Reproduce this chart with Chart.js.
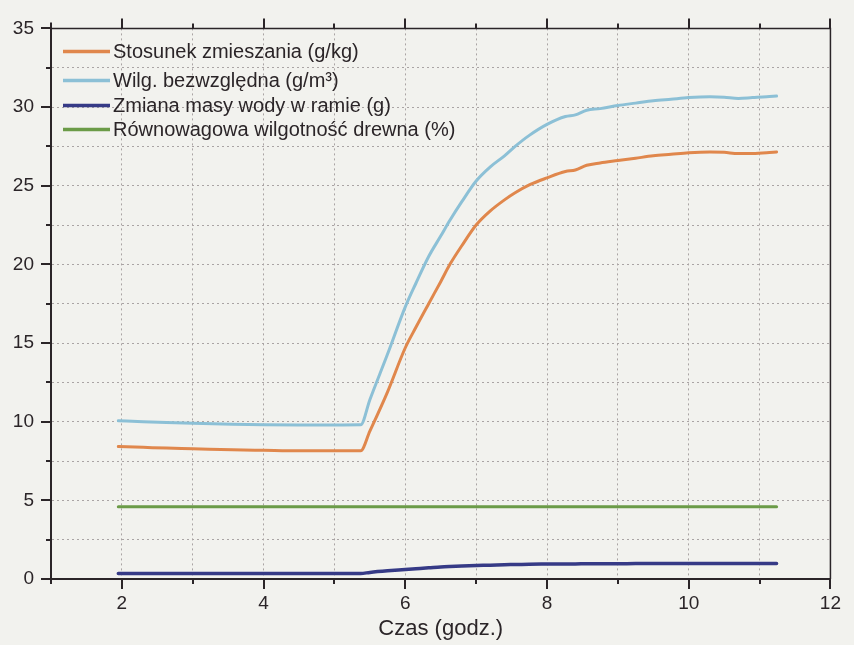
<!DOCTYPE html>
<html>
<head>
<meta charset="utf-8">
<script src="https://cdn.jsdelivr.net/npm/chart.js@4.4.0/dist/chart.umd.min.js"></script>
<style>
  body { margin: 0; background: #f2f2ee; }
  canvas { display: block; }
</style>
</head>
<body>
<canvas id="canvas" width="854" height="645"></canvas>
<script>
// time (hours)
const time = [1.95, 2.3, 2.63, 3.0, 3.56, 4.0, 4.5, 5.0, 5.37, 5.5, 5.75, 6.0, 6.15, 6.33, 6.5, 6.63, 6.8, 7.0, 7.2, 7.4, 7.55, 7.75, 8.0, 8.26, 8.4, 8.56, 8.75, 9.0, 9.25, 9.5, 9.75, 10.0, 10.3, 10.5, 10.7, 10.9, 11.1, 11.24];

const mixingRatio = [8.42, 8.37, 8.32, 8.28, 8.21, 8.18, 8.15, 8.15, 8.15, 9.4, 11.9, 14.7, 16.0, 17.5, 18.9, 20.0, 21.2, 22.5, 23.4, 24.1, 24.55, 25.05, 25.5, 25.9, 26.0, 26.3, 26.45, 26.6, 26.75, 26.9, 27.0, 27.1, 27.15, 27.12, 27.04, 27.05, 27.1, 27.15];

const absHumidity = [10.06, 10.0, 9.95, 9.9, 9.83, 9.8, 9.79, 9.79, 9.8, 11.4, 14.3, 17.3, 18.8, 20.5, 21.8, 22.8, 24.0, 25.3, 26.2, 26.9, 27.5, 28.2, 28.9, 29.4, 29.5, 29.8, 29.9, 30.1, 30.25, 30.4, 30.5, 30.6, 30.65, 30.62, 30.55, 30.6, 30.65, 30.7];

const waterMass = [0.35, 0.35, 0.35, 0.35, 0.35, 0.35, 0.35, 0.35, 0.35, 0.42, 0.52, 0.6, 0.65, 0.71, 0.77, 0.8, 0.83, 0.86, 0.88, 0.91, 0.92, 0.94, 0.95, 0.96, 0.96, 0.97, 0.97, 0.97, 0.98, 0.98, 0.98, 0.98, 0.98, 0.98, 0.98, 0.98, 0.98, 0.98];

const emc = [4.6, 4.6, 4.6, 4.6, 4.6, 4.6, 4.6, 4.6, 4.6, 4.6, 4.6, 4.6, 4.6, 4.6, 4.6, 4.6, 4.6, 4.6, 4.6, 4.6, 4.6, 4.6, 4.6, 4.6, 4.6, 4.6, 4.6, 4.6, 4.6, 4.6, 4.6, 4.6, 4.6, 4.6, 4.6, 4.6, 4.6, 4.6];

const seriesLabels = [
  "Stosunek zmieszania (g/kg)",
  "Wilg. bezwzględna (g/m³)",
  "Zmiana masy wody w ramie (g)",
  "Równowagowa wilgotność drewna (%)",
];

const xTitle = "Czas (godz.)";

const colors = ["#e0874c", "#8cc0d6", "#363a86", "#6b9b47"];

function toPoints(values) {
  return values.map(function (v, i) {
    return { x: time[i], y: v };
  });
}

const ink = "#2b2528";
const gridColor = "#aaa4a4";

// frame, ticks and legend
const decorPlugin = {
  id: "decor",
  afterDraw(chart) {
    const ctx = chart.ctx;
    const a = chart.chartArea;
    const xs = chart.scales.x;
    const ys = chart.scales.y;
    ctx.save();
    ctx.strokeStyle = ink;

    // top and right border
    ctx.lineWidth = 1.5;
    ctx.beginPath();
    ctx.moveTo(a.left - 1, a.top);
    ctx.lineTo(a.right, a.top);
    ctx.lineTo(a.right, a.bottom);
    ctx.stroke();

    // left spine sticks out a little above the top
    ctx.lineWidth = 2;
    ctx.beginPath();
    ctx.moveTo(a.left, a.top - 6);
    ctx.lineTo(a.left, a.bottom);
    ctx.stroke();

    // x ticks, bottom and top
    for (let v = 1; v <= 12; v++) {
      const px = Math.round(xs.getPixelForValue(v));
      const len = v % 2 === 0 ? 10 : 5;
      ctx.lineWidth = 2;
      ctx.beginPath();
      ctx.moveTo(px, a.bottom);
      ctx.lineTo(px, a.bottom + len);
      ctx.moveTo(px, a.top);
      ctx.lineTo(px, a.top - len);
      ctx.stroke();
    }

    // y ticks
    for (let v = 0; v <= 35; v += 2.5) {
      const py = Math.round(ys.getPixelForValue(v));
      const len = v % 5 === 0 ? 10 : 5;
      ctx.lineWidth = 2;
      ctx.beginPath();
      ctx.moveTo(a.left, py);
      ctx.lineTo(a.left - len, py);
      ctx.stroke();
    }

    // legend
    ctx.font = "20px 'Liberation Sans', Arial, sans-serif";
    ctx.textBaseline = "middle";
    ctx.fillStyle = ink;
    const rows = [23, 52, 77, 101];
    chart.data.datasets.forEach(function (ds, i) {
      const y = a.top + rows[i];
      const x0 = a.left + 12;
      ctx.strokeStyle = ds.borderColor;
      ctx.lineWidth = 3.5;
      ctx.beginPath();
      ctx.moveTo(x0, y);
      ctx.lineTo(x0 + 47, y);
      ctx.stroke();
      ctx.fillText(ds.label, x0 + 50, y + 1);
    });

    ctx.restore();
  },
};

const config = {
  type: "line",
  data: {
    datasets: [
      { label: seriesLabels[0], data: toPoints(mixingRatio), borderColor: colors[0], borderWidth: 3 },
      { label: seriesLabels[1], data: toPoints(absHumidity), borderColor: colors[1], borderWidth: 3 },
      { label: seriesLabels[2], data: toPoints(waterMass), borderColor: colors[2], borderWidth: 3.5 },
      { label: seriesLabels[3], data: toPoints(emc), borderColor: colors[3], borderWidth: 3 },
    ],
  },
  options: {
    responsive: false,
    animation: false,
    layout: { padding: { top: 23, right: 21, left: 0, bottom: 0 } },
    elements: {
      point: { radius: 0 },
      line: { cubicInterpolationMode: "monotone", borderCapStyle: "round", borderJoinStyle: "round" },
    },
    plugins: {
      legend: { display: false },
      tooltip: { enabled: false },
    },
    scales: {
      x: {
        type: "linear",
        min: 1,
        max: 12,
        afterFit(scale) {
          scale.height = 66;
        },
        ticks: {
          stepSize: 1,
          padding: 13,
          color: ink,
          font: { size: 19 },
          maxRotation: 0,
          autoSkip: false,
          callback: function (v) {
            return v % 2 === 0 ? String(v) : "";
          },
        },
        grid: {
          drawTicks: false,
          color: function (c) {
            const v = c.tick ? c.tick.value : null;
            return v === 1 || v === 12 ? "rgba(0,0,0,0)" : gridColor;
          },
          lineWidth: 1,
        },
        border: { display: true, color: ink, width: 2, dash: [2, 3] },
        title: {
          display: true,
          text: xTitle,
          color: ink,
          font: { size: 22 },
          padding: { top: 0, bottom: 3 },
        },
      },
      y: {
        min: 0,
        max: 35,
        afterFit(scale) {
          scale.width = 51;
        },
        ticks: {
          stepSize: 2.5,
          padding: 17,
          color: ink,
          font: { size: 19 },
          autoSkip: false,
          callback: function (v) {
            return v % 5 === 0 ? String(v) : "";
          },
        },
        grid: {
          drawTicks: false,
          color: function (c) {
            const v = c.tick ? c.tick.value : null;
            return v === 0 || v === 35 ? "rgba(0,0,0,0)" : gridColor;
          },
          lineWidth: 1,
        },
        border: { display: true, color: ink, width: 2, dash: [2, 3] },
      },
    },
  },
  plugins: [decorPlugin],
};

Chart.defaults.font.family = "'Liberation Sans', Arial, sans-serif";

const myChart = new Chart(document.getElementById("canvas"), config);
</script>
</body>
</html>
